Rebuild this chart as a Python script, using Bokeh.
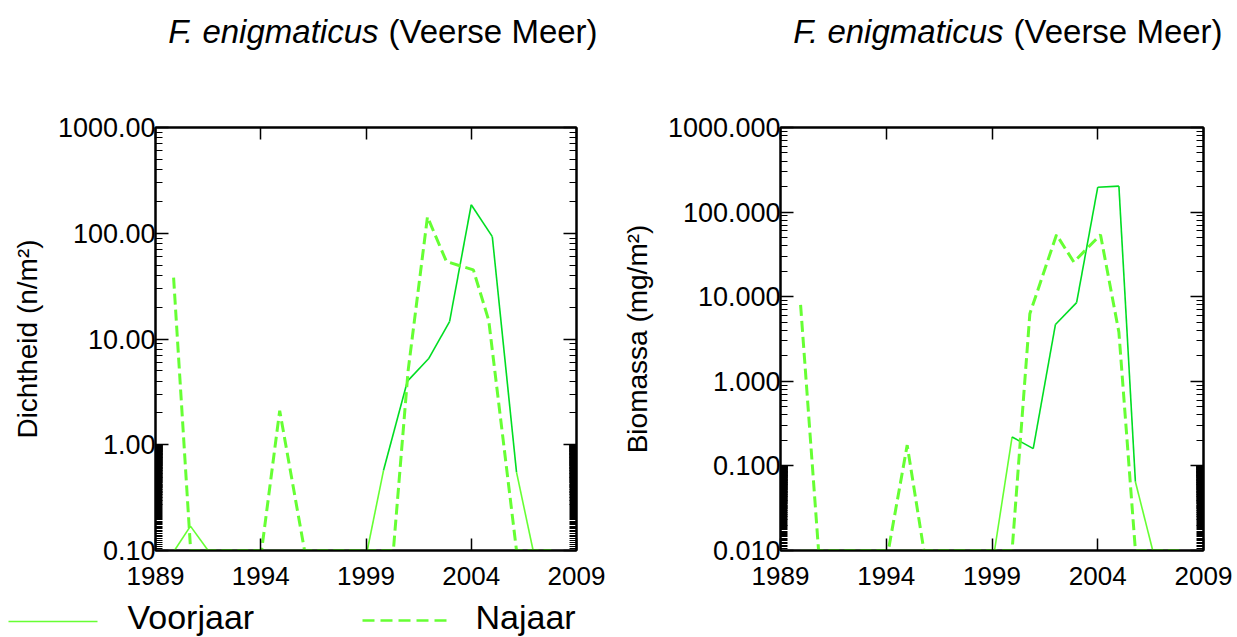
from bokeh.plotting import figure
from bokeh.models import Range1d, FixedTicker, PrintfTickFormatter, LogAxis, LinearAxis, ColumnDataSource
from bokeh.layouts import column, row
from bokeh.embed import file_html
from bokeh.resources import INLINE
from bokeh.core.properties import value

FONT = "Liberation Sans"
DARK = "#00DD22"
LIGHT = "#66FF33"

# ---- data (decimal year, value) ----
dens_voorjaar_x = [1989.9, 1990.66, 1991.5, 1999.06, 1999.83, 2000.97, 2001.97, 2002.97, 2004.0, 2005.0, 2006.15, 2006.94, 2007.8]
dens_voorjaar_y = [0.1, 0.17, 0.1, 0.1, 0.57, 4.0, 6.5, 14.6, 186, 93, 0.55, 0.1, 0.1]
dens_najaar_x = [1989.86, 1990.67, 1994.04, 1994.9, 1996.08, 2000.3, 2001.0, 2001.92, 2002.82, 2004.1, 2004.83, 2006.15, 2007.8]
dens_najaar_y = [38, 0.1, 0.1, 2.1, 0.1, 0.1, 5.0, 143, 54, 45, 15, 0.1, 0.1]

bio_voorjaar_x = [1989.95, 1999.12, 1999.95, 2000.95, 2002.0, 2003.0, 2004.0, 2005.0, 2005.78, 2006.6, 2007.9]
bio_voorjaar_y = [0.01, 0.01, 0.22, 0.16, 4.7, 8.5, 197, 203, 0.065, 0.01, 0.01]
bio_najaar_x = [1989.95, 1990.8, 1994.1, 1994.99, 1995.78, 1999.95, 2000.79, 2002.05, 2002.87, 2004.13, 2005.0, 2005.78, 2007.9]
bio_najaar_y = [8.0, 0.01, 0.01, 0.176, 0.01, 0.01, 6.3, 54, 25.7, 54, 3.8, 0.01, 0.01]

year_ticks = [1989, 1994, 1999, 2004, 2009]
title_italic = "F. enigmaticus"
title_normal = "(Veerse Meer)"
legend_labels = ["Voorjaar", "Najaar"]


def make_plot(xv, yv, xn, yn, floor, fmt, ylabel, width, bl, br):
    p = figure(width=width, height=495, x_range=Range1d(1989, 2009), y_range=Range1d(floor, 1000),
               y_axis_type="log", output_backend="svg", toolbar_location=None,
               min_border_left=bl, min_border_right=br, min_border_top=27, min_border_bottom=45)
    p.xgrid.visible = False
    p.ygrid.visible = False
    p.outline_line_color = "black"
    p.outline_line_width = 2
    p.background_fill_color = "white"
    p.border_fill_color = "white"

    majors = []
    v = floor
    while v <= 1000 * 1.0001:
        majors.append(round(v, 6))
        v *= 10
    minors = []
    step = floor / 20.0
    k = 1
    while floor + k * step < floor * 10 - 1e-12:
        minors.append(floor + k * step)
        k += 1
    for m in majors[1:-1]:
        for j in range(2, 10):
            minors.append(m * j)
    yt = FixedTicker(ticks=majors, minor_ticks=minors)
    xt = FixedTicker(ticks=year_ticks, minor_ticks=[])

    ya = p.yaxis[0]
    ya.ticker = yt
    ya.formatter = PrintfTickFormatter(format=fmt)
    ya.axis_line_width = 2
    ya.major_tick_in = 13
    ya.major_tick_out = 0
    ya.minor_tick_in = 7
    ya.minor_tick_out = 0
    ya.major_tick_line_width = 1.5
    ya.minor_tick_line_width = 1
    ya.major_label_text_font = FONT
    ya.major_label_text_font_size = "27px"
    ya.major_label_text_color = "black"
    ya.major_label_standoff = 0
    ya.axis_label = ylabel
    ya.axis_label_text_font = FONT
    ya.axis_label_text_font_size = "28px"
    ya.axis_label_text_font_style = "normal"
    ya.axis_label_text_color = "black"
    ya.axis_label_standoff = 12

    xa = p.xaxis[0]
    xa.ticker = xt
    xa.axis_line_width = 2
    xa.major_tick_in = 12
    xa.major_tick_out = 0
    xa.minor_tick_in = 0
    xa.minor_tick_out = 0
    xa.major_tick_line_width = 1.5
    xa.major_label_text_font = FONT
    xa.major_label_text_font_size = "26px"
    xa.major_label_text_color = "black"
    xa.major_label_standoff = 16

    blank_y = {t: " " for t in majors}
    blank_x = {t: " " for t in year_ticks}
    ra = LogAxis(ticker=yt, major_tick_in=13, major_tick_out=0, minor_tick_in=7, minor_tick_out=0,
                 major_tick_line_width=1.5, minor_tick_line_width=1, axis_line_width=2,
                 major_label_overrides=blank_y, major_label_text_font_size="2px", major_label_standoff=0)
    p.add_layout(ra, "right")
    ta = LinearAxis(ticker=xt, major_tick_in=12, major_tick_out=0, minor_tick_in=0, minor_tick_out=0,
                    major_tick_line_width=1.5, axis_line_width=2,
                    major_label_overrides=blank_x, major_label_text_font_size="2px", major_label_standoff=0)
    p.add_layout(ta, "above")

    colors = [DARK if min(a, b) > floor * 1.01 else LIGHT for a, b in zip(yv[:-1], yv[1:])]
    src = ColumnDataSource(dict(x0=xv[:-1], y0=yv[:-1], x1=xv[1:], y1=yv[1:], c=colors))
    p.segment("x0", "y0", "x1", "y1", source=src, line_color="c", line_width=1.6)
    p.line(xn, yn, line_color=LIGHT, line_width=3, line_dash="11 5")
    return p


left = make_plot(dens_voorjaar_x, dens_voorjaar_y, dens_najaar_x, dens_najaar_y, 0.1, "%.2f",
                 "Dichtheid (n/m²)", 618, 155, 42)
right = make_plot(bio_voorjaar_x, bio_voorjaar_y, bio_najaar_x, bio_najaar_y, 0.01, "%.3f",
                  "Biomassa (mg/m²)", 619, 162, 34)

# title strip
tf = figure(width=1237, height=100, x_range=Range1d(0, 1237), y_range=Range1d(100, 0),
            output_backend="svg", toolbar_location=None, min_border=0,
            x_axis_location=None, y_axis_location=None, outline_line_color=None)
tf.grid.visible = False
tf.text(x=[378, 1003], y=[31, 31], text=[title_italic, title_italic], text_align="right",
        text_baseline="alphabetic", text_font=value(FONT), text_font_style="italic",
        text_font_size=value("33px"), text_color="black")
tf.text(x=[388, 1013], y=[31, 31], text=[title_normal, title_normal], text_align="left",
        text_baseline="alphabetic", text_font=value(FONT), text_font_style="normal",
        text_font_size=value("33px"), text_color="black")

# legend strip
lf = figure(width=1237, height=42, x_range=Range1d(0, 1237), y_range=Range1d(637, 595),
            output_backend="svg", toolbar_location=None, min_border=0,
            x_axis_location=None, y_axis_location=None, outline_line_color=None)
lf.grid.visible = False
lf.line([8, 97], [621, 621], line_color=LIGHT, line_width=1.6)
lf.line([362, 448], [620, 620], line_color=LIGHT, line_width=2.5, line_dash="12 6")
lf.text(x=[127, 475], y=[616, 616], text=legend_labels, text_align="left", text_baseline="alphabetic",
        text_font=value(FONT), text_font_size=value("34px"), text_color="black")

layout = column(tf, row(left, right), lf)
open("out.html", "w").write(file_html(layout, INLINE))
